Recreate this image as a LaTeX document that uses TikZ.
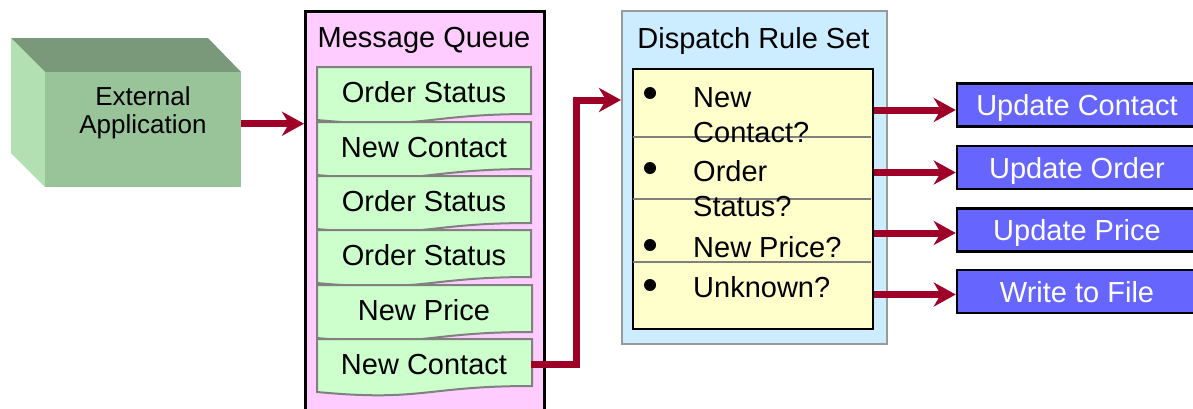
\documentclass[tikz,border=0pt]{standalone}
\usepackage{fontspec}
\setmainfont{Liberation Sans}
\usetikzlibrary{arrows.meta,calc,positioning}
\definecolor{flowred}{RGB}{158,0,40}
\definecolor{cubefront}{RGB}{153,195,153}
\definecolor{cubetop}{RGB}{122,153,122}
\definecolor{cubeside}{RGB}{179,224,179}
\definecolor{queuepink}{RGB}{255,204,255}
\definecolor{itemgreen}{RGB}{204,255,204}
\definecolor{ruleblue}{RGB}{204,236,255}
\definecolor{ruleyellow}{RGB}{255,255,204}
\definecolor{actionblue}{RGB}{102,102,255}

\begin{document}
\begin{tikzpicture}[x=1pt, y=-1pt, font=\fontsize{29}{35}\selectfont,
  flow/.style={draw=flowred, line width=7pt, -{Stealth[length=22pt,width=24pt,inset=7pt]}},
  qitem/.style={draw=gray, fill=itemgreen, line width=2pt},
  qtext/.style={anchor=base, minimum width=214pt, inner sep=0pt},
  action/.style={draw=black, fill=actionblue, text=white, line width=2.5pt, minimum width=240pt, minimum height=43pt, inner sep=0pt, text height=21pt, text depth=0pt},
  bullet/.style={circle, fill=black, inner sep=0pt, minimum size=12pt}]
\useasboundingbox (0,0) rectangle (1193,408);
\clip (0,0) rectangle (1193,408);
% external application cube
\fill [cubetop] (11,38) -- (208,38) -- (241,72) -- (45,72) -- cycle;
\fill [cubeside] (11,38) -- (45,72) -- (45,187) -- (11,153) -- cycle;
\node [fill=cubefront, minimum width=196pt, minimum height=115pt, inner sep=0pt, anchor=north west] (ext) at (45,72) {};
\node [font=\fontsize{26}{28}\selectfont, align=center] (extlabel) at (143,112.5) {External\\Application};
% message queue
\node [draw, fill=queuepink, line width=2.5pt, minimum width=239pt, minimum height=420pt, anchor=north west] (queue) at (304,10) {};
\node [anchor=base] (qtitle) at (424,47) {Message Queue};
\draw [qitem] (317,67) -- (531,67) -- (531,114) .. controls (424,114) and (424,130) .. (317,120) -- cycle;
\draw [qitem] (317,122) -- (531,122) -- (531,169) .. controls (424,169) and (424,185) .. (317,175) -- cycle;
\draw [qitem] (317,176) -- (531,176) -- (531,223) .. controls (424,223) and (424,239) .. (317,229) -- cycle;
\draw [qitem] (317,230) -- (531,230) -- (531,277) .. controls (424,277) and (424,293) .. (317,283) -- cycle;
\draw [qitem] (317,285) -- (532,285) -- (532,332) .. controls (424,332) and (424,348) .. (317,338) -- cycle;
\draw [qitem] (317,339) -- (532,339) -- (532,386) .. controls (424,386) and (424,402) .. (317,392) -- cycle;
\node [qtext] (q1) at (424,102) {Order Status};
\node [qtext] (q2) at (424,157) {New Contact};
\node [qtext] (q3) at (424,211) {Order Status};
\node [qtext] (q4) at (424,265) {Order Status};
\node [qtext] (q5) at (424,320) {New Price};
\node [qtext] (q6) at (424,374) {New Contact};
% dispatch rules
\node [draw=gray!80, fill=ruleblue, line width=2pt, minimum width=265pt, minimum height=333pt, anchor=north west] (dispatch) at (621,10) {};
\node [anchor=base] (dtitle) at (753.5,48) {Dispatch Rule Set};
\node [draw, fill=ruleyellow, line width=2pt, minimum width=240pt, minimum height=260pt, anchor=north west] (rules) at (632,68) {};
\draw [gray, line width=2pt] (633,137) -- (871,137);
\draw [gray, line width=2pt] (633,199) -- (871,199);
\draw [gray, line width=2pt] (633,262) -- (871,262);
\node [bullet] (b1) at (650,93) {};
\node [bullet] (b2) at (650,168) {};
\node [bullet] (b3) at (650,245) {};
\node [bullet] (b4) at (650,285) {};
\node [anchor=base west, align=left, inner sep=0pt] (r1) at (693,142) {New\\Contact?};
\node [anchor=base west, align=left, inner sep=0pt] (r2) at (693,216) {Order\\Status?};
\node [anchor=base west, inner sep=0pt] (r3) at (693,257) {New Price?};
\node [anchor=base west, inner sep=0pt] (r4) at (693,297) {Unknown?};
% actions
\node [action] (upc) at (1077,105) {Update Contact};
\node [action] (upo) at (1077,167.5) {Update Order};
\node [action] (upp) at (1077,230) {Update Price};
\node [action] (wtf) at (1077,291.5) {Write to File};
% flows
\draw [flow] ($(ext.east)+(0,-6)$) -- ($(ext.east -| queue.west)+(0,-6)$);
\draw [flow] (q6.east) -- ++(45,0) |- ($(dispatch.north west)+(0,90)$);
\draw [flow] ($(rules.east |- upc.west)+(0,5)$) -- ($(upc.west)+(0,5)$);
\draw [flow] ($(rules.east |- upo.west)+(0,5)$) -- ($(upo.west)+(0,5)$);
\draw [flow] ($(rules.east |- upp.west)+(0,3)$) -- ($(upp.west)+(0,3)$);
\draw [flow] ($(rules.east |- wtf.west)+(0,3)$) -- ($(wtf.west)+(0,3)$);
\end{tikzpicture}
\end{document}
